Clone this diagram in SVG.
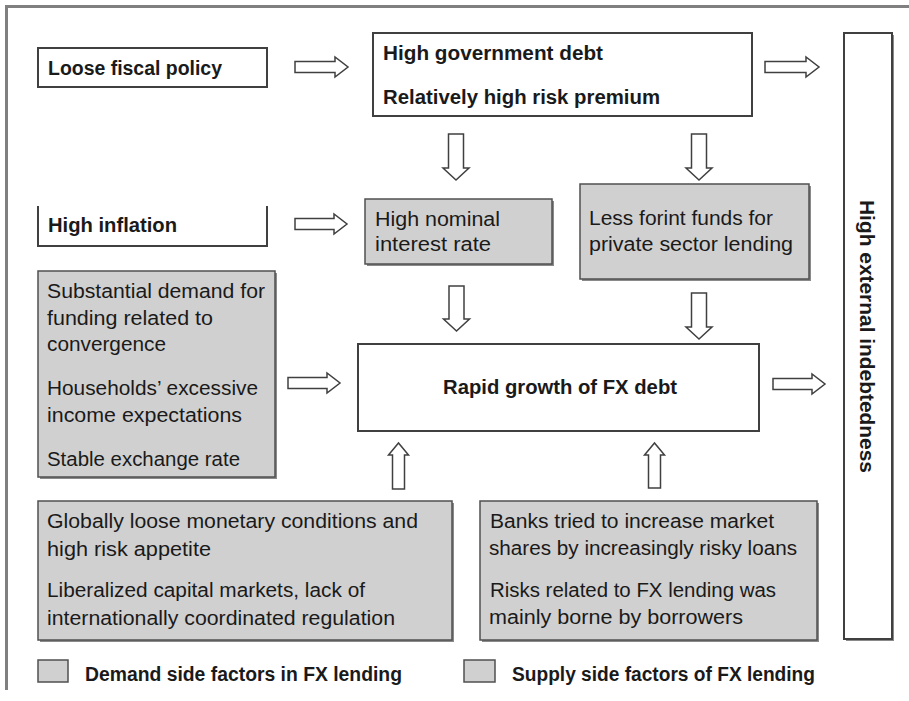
<svg xmlns="http://www.w3.org/2000/svg" width="909" height="701" viewBox="0 0 909 701">
<style>
.bw{fill:#ffffff;stroke:#404040;stroke-width:2}
.bg{fill:#d0d0d0;stroke:#505050;stroke-width:1.5}
.sh{fill:#8a8a8a}
.ar{fill:#ffffff;stroke:#404040;stroke-width:1.5;stroke-linejoin:miter}
.t{font-family:"Liberation Sans",Arial,sans-serif;font-size:20px;fill:#1a1a1a}
.b{font-weight:bold}
.n{font-size:20px}
</style>
<rect width="909" height="701" fill="#ffffff"/>
<path d="M6.5,690 V6.5 H909" fill="none" stroke="#808080" stroke-width="3"/>

<g id="loose-fiscal">
<rect class="bw" x="38" y="48" width="229" height="39"/>
<text class="t b" x="48" y="75" textLength="174" lengthAdjust="spacingAndGlyphs">Loose fiscal policy</text>
</g>

<g id="high-gov-debt">
<rect class="bw" x="373" y="33" width="379" height="83"/>
<text class="t b" x="383" y="60" textLength="220" lengthAdjust="spacingAndGlyphs">High government debt</text>
<text class="t b" x="383" y="104" textLength="277" lengthAdjust="spacingAndGlyphs">Relatively high risk premium</text>
</g>

<g id="high-external">
<rect x="846" y="35" width="48" height="606" class="sh"/>
<rect class="bw" x="844" y="33" width="48" height="606"/>
<text class="t b" transform="translate(860,200) rotate(90)" x="0" y="0" textLength="273" lengthAdjust="spacingAndGlyphs">High external indebtedness</text>
</g>

<g id="high-inflation">
<path d="M38,206 V246 H267 V206" fill="none" stroke="#404040" stroke-width="2"/>
<text class="t b" x="48" y="232" textLength="129" lengthAdjust="spacingAndGlyphs">High inflation</text>
</g>

<g id="high-nominal">
<rect x="367" y="201" width="187" height="65" class="sh"/>
<rect class="bg" x="365" y="199" width="187" height="65"/>
<text class="t n" x="375" y="226" textLength="125" lengthAdjust="spacingAndGlyphs">High nominal</text>
<text class="t n" x="375" y="251" textLength="116" lengthAdjust="spacingAndGlyphs">interest rate</text>
</g>

<g id="less-forint">
<rect x="582" y="186" width="229" height="95" class="sh"/>
<rect class="bg" x="580" y="184" width="229" height="95"/>
<text class="t n" x="589" y="225" textLength="184" lengthAdjust="spacingAndGlyphs">Less forint funds for</text>
<text class="t n" x="589" y="251" textLength="204" lengthAdjust="spacingAndGlyphs">private sector lending</text>
</g>

<g id="demand-factors">
<rect x="40" y="273" width="237" height="206" class="sh"/>
<rect class="bg" x="38" y="271" width="237" height="206"/>
<text class="t n" x="47" y="298" textLength="218" lengthAdjust="spacingAndGlyphs">Substantial demand for</text>
<text class="t n" x="47" y="325" textLength="166" lengthAdjust="spacingAndGlyphs">funding related to</text>
<text class="t n" x="47" y="351" textLength="119" lengthAdjust="spacingAndGlyphs">convergence</text>
<text class="t n" x="47" y="395" textLength="211" lengthAdjust="spacingAndGlyphs">Households’ excessive</text>
<text class="t n" x="47" y="422" textLength="195" lengthAdjust="spacingAndGlyphs">income expectations</text>
<text class="t n" x="47" y="466" textLength="193" lengthAdjust="spacingAndGlyphs">Stable exchange rate</text>
</g>

<g id="rapid-growth">
<rect class="bw" x="358" y="344" width="401" height="87"/>
<text class="t b" x="443" y="394" textLength="234" lengthAdjust="spacingAndGlyphs">Rapid growth of FX debt</text>
</g>

<g id="global-conditions">
<rect x="40" y="503" width="414" height="139" class="sh"/>
<rect class="bg" x="38" y="501" width="414" height="139"/>
<text class="t n" x="47" y="528" textLength="371" lengthAdjust="spacingAndGlyphs">Globally loose monetary conditions and</text>
<text class="t n" x="47" y="556" textLength="164" lengthAdjust="spacingAndGlyphs">high risk appetite</text>
<text class="t n" x="47" y="597" textLength="318" lengthAdjust="spacingAndGlyphs">Liberalized capital markets, lack of</text>
<text class="t n" x="47" y="625" textLength="348" lengthAdjust="spacingAndGlyphs">internationally coordinated regulation</text>
</g>

<g id="bank-factors">
<rect x="482" y="503" width="337" height="139" class="sh"/>
<rect class="bg" x="480" y="501" width="337" height="139"/>
<text class="t n" x="490" y="528" textLength="284" lengthAdjust="spacingAndGlyphs">Banks tried to increase market</text>
<text class="t n" x="489" y="555" textLength="308" lengthAdjust="spacingAndGlyphs">shares by increasingly risky loans</text>
<text class="t n" x="490" y="597" textLength="286" lengthAdjust="spacingAndGlyphs">Risks related to FX lending was</text>
<text class="t n" x="489" y="624" textLength="254" lengthAdjust="spacingAndGlyphs">mainly borne by borrowers</text>
</g>

<g id="legend-demand">
<rect class="bg" x="38" y="660" width="30" height="22"/>
<text class="t b" x="85" y="681" textLength="317" lengthAdjust="spacingAndGlyphs">Demand side factors in FX lending</text>
</g>

<g id="legend-supply">
<rect class="bg" x="464" y="660" width="31" height="22"/>
<text class="t b" x="512" y="681" textLength="303" lengthAdjust="spacingAndGlyphs">Supply side factors of FX lending</text>
</g>

<g id="connectors">
<path class="ar" d="M295,61.5 H335 V57 L348,67 L335,77 V72.5 H295 Z"/>
<path class="ar" d="M765,61.5 H806 V57 L819,67 L806,77 V72.5 H765 Z"/>
<path class="ar" d="M295,218.5 H334 V214 L347,224 L334,234 V229.5 H295 Z"/>
<path class="ar" d="M288,377.5 H327 V373 L340,383 L327,393 V388.5 H288 Z"/>
<path class="ar" d="M773,378.5 H812 V374 L825,384 L812,394 V389.5 H773 Z"/>
<path class="ar" d="M448.5,134 H463.5 V168 H469 L456,180 L443,168 H448.5 Z"/>
<path class="ar" d="M691.5,134 H706.5 V168 H712 L699,180 L686,168 H691.5 Z"/>
<path class="ar" d="M449,286 H464 V319 H469.5 L456.5,331 L443.5,319 H449 Z"/>
<path class="ar" d="M691.5,293 H706.5 V327 H712 L699,339 L686,327 H691.5 Z"/>
<path class="ar" d="M392.5,489 H404.5 V455 H408.5 L398.5,443 L388.5,455 H392.5 Z"/>
<path class="ar" d="M648.5,488 H660.5 V455 H664.5 L654.5,443 L644.5,455 H648.5 Z"/>
</g>
</svg>
